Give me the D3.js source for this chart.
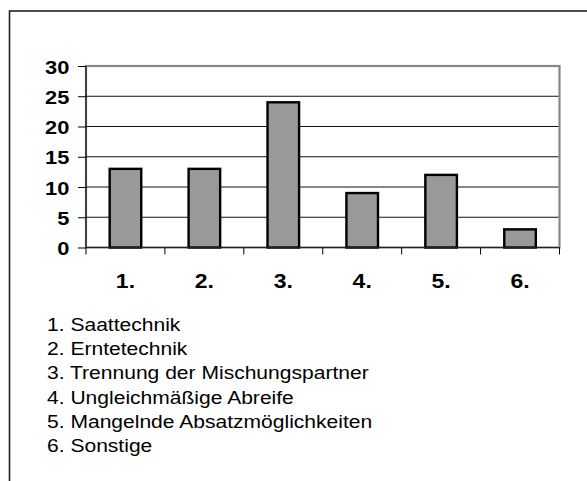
<!DOCTYPE html>
<html>
<head>
<meta charset="utf-8">
<script src="https://cdn.jsdelivr.net/npm/d3@7"></script>
<style>
  body { margin: 0; background: #fff; }
  svg { display: block; font-family: "Liberation Sans", Arial, sans-serif; }
</style>
</head>
<body>
<svg id="chart"></svg>
<script>
// Daten aus der Abbildung
const categories = ["1.", "2.", "3.", "4.", "5.", "6."];
const values = [13, 13, 24, 9, 12, 3];
const yTicks = [0, 5, 10, 15, 20, 25, 30];
const legendLabels = [
  "1. Saattechnik",
  "2. Erntetechnik",
  "3. Trennung der Mischungspartner",
  "4. Ungleichmäßige Abreife",
  "5. Mangelnde Absatzmöglichkeiten",
  "6. Sonstige"
];

const width = 587, height = 481;
const plot = { left: 86, right: 559.5, top: 66, bottom: 247.5 };
const stretch = 1.15; // Schrift im Original horizontal gestreckt

const svg = d3.select("#chart")
  .attr("width", width)
  .attr("height", height);

// äußerer Rahmen (rechts und unten abgeschnitten)
svg.append("rect")
  .attr("x", 9.5).attr("y", 11)
  .attr("width", 700).attr("height", 600)
  .attr("fill", "white")
  .attr("stroke", "#222")
  .attr("stroke-width", 1.6);

const x = d3.scaleBand()
  .domain(categories)
  .range([plot.left, plot.right])
  .padding(0);

const y = d3.scaleLinear()
  .domain([0, 30])
  .range([plot.bottom, plot.top]);

// Zeichnungsfläche: grauer Rand
svg.append("rect")
  .attr("x", plot.left).attr("y", plot.top)
  .attr("width", plot.right - plot.left)
  .attr("height", plot.bottom - plot.top)
  .attr("fill", "white")
  .attr("stroke", "#888")
  .attr("stroke-width", 2.2);

// Gitterlinien
svg.append("g")
  .selectAll("line")
  .data(yTicks.filter(d => d > 0 && d < 30))
  .join("line")
  .attr("x1", plot.left).attr("x2", plot.right - 1)
  .attr("y1", d => y(d)).attr("y2", d => y(d))
  .attr("stroke", "#111")
  .attr("stroke-width", 1);

// Balken
const barW = x.bandwidth() * 0.4;
svg.append("g")
  .selectAll("rect")
  .data(values)
  .join("rect")
  .attr("x", (d, i) => x(categories[i]) + (x.bandwidth() - barW) / 2)
  .attr("y", d => y(d))
  .attr("width", barW)
  .attr("height", d => y(0) - y(d))
  .attr("fill", "#999999")
  .attr("stroke", "#000")
  .attr("stroke-width", 2.4);

// y-Achse
svg.append("g")
  .attr("transform", `translate(${plot.left},0)`)
  .call(d3.axisLeft(y).tickValues(yTicks).tickSize(8).tickFormat(d3.format("d")))
  .call(g => g.select(".domain").attr("stroke", "#000").attr("d", `M0,${plot.top}V${plot.bottom}`))
  .call(g => g.selectAll(".tick line").attr("stroke", "#000"))
  .call(g => g.selectAll(".tick text")
    .attr("x", -16.7 / stretch)
    .attr("dy", "0.38em")
    .attr("transform", `scale(${stretch},1)`)
    .attr("fill", "#000")
    .attr("font-size", 19)
    .attr("font-weight", "bold")
    .attr("font-family", "Liberation Sans, Arial, sans-serif"));

// x-Achse mit Strichen an den Kategoriegrenzen
const xAxis = svg.append("g");
xAxis.append("line")
  .attr("x1", plot.left).attr("x2", plot.right)
  .attr("y1", plot.bottom).attr("y2", plot.bottom)
  .attr("stroke", "#222").attr("stroke-width", 1.2);
xAxis.selectAll("line.tick")
  .data(categories.map(c => x(c)).concat([plot.right]))
  .join("line")
  .attr("class", "tick")
  .attr("x1", d => d).attr("x2", d => d)
  .attr("y1", plot.bottom).attr("y2", plot.bottom + 7)
  .attr("stroke", "#000");
xAxis.selectAll("text")
  .data(categories)
  .join("text")
  .attr("transform", d => `translate(${x(d) + x.bandwidth() / 2},288) scale(${stretch},1)`)
  .attr("text-anchor", "middle")
  .attr("font-size", 20)
  .attr("font-weight", "bold")
  .text(d => d);

// Legende
svg.append("g")
  .selectAll("text")
  .data(legendLabels)
  .join("text")
  .attr("transform", (d, i) => `translate(47,${331 + i * 24.2}) scale(${stretch},1)`)
  .attr("font-size", 18.3)
  .attr("fill", "#000")
  .text(d => d);
</script>
</body>
</html>
